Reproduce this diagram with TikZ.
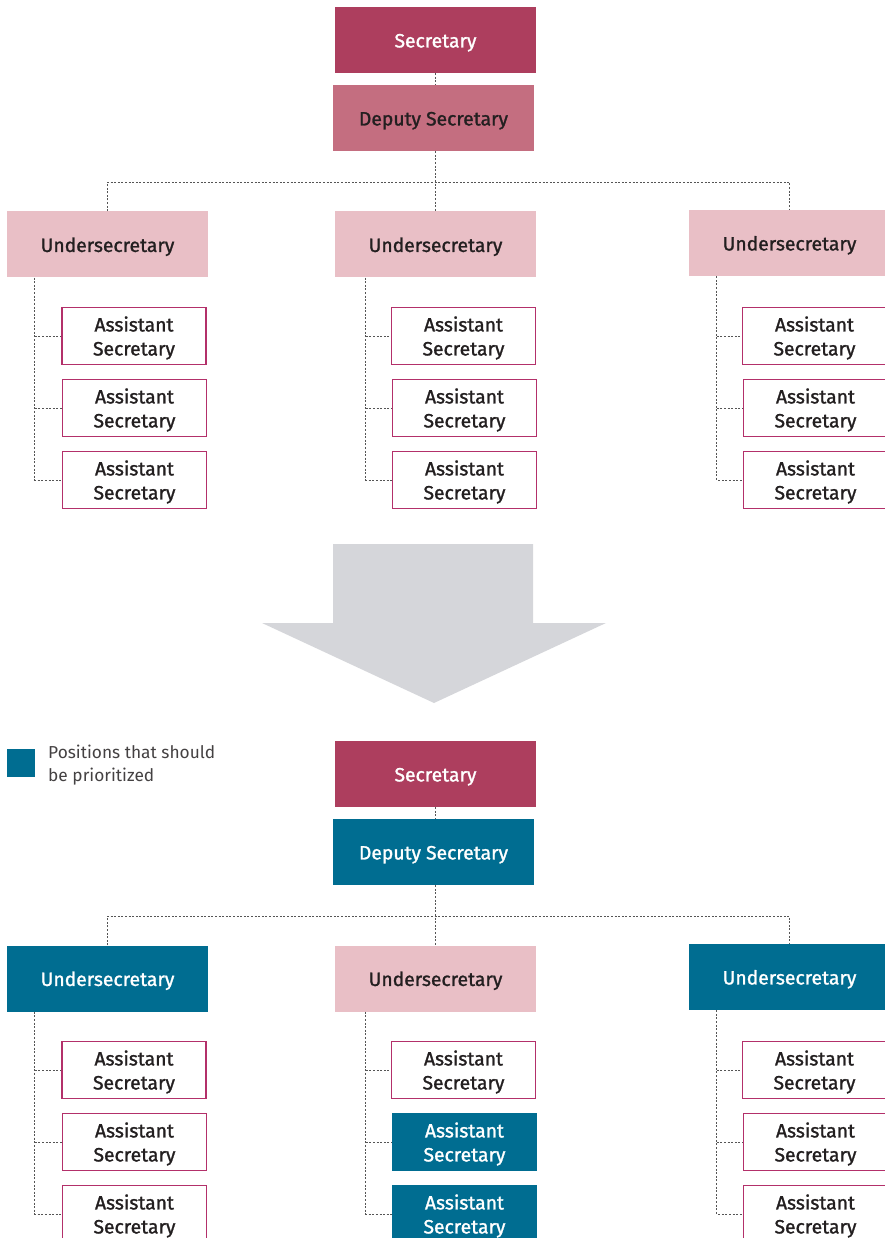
\documentclass[tikz,border=0pt]{standalone}
\usepackage{fontspec}
\setmainfont{Fira Sans}
\newfontfamily\boxfont{Fira Sans}[FakeBold=1.3]
\usetikzlibrary{calc}
\definecolor{secred}{HTML}{AD3E5E}
\definecolor{deppink}{HTML}{C46E80}
\definecolor{lightpink}{HTML}{E9BFC6}
\definecolor{primeteal}{HTML}{006D91}
\definecolor{asstline}{HTML}{B3306A}
\definecolor{arrowgray}{HTML}{D5D6DA}
\definecolor{darktext}{HTML}{231F20}
\definecolor{linkgray}{HTML}{555555}
\newcommand\lift{\rule{0pt}{19pt}}

\tikzset{
    box/.style={minimum width=201pt, minimum height=66pt, inner sep=0pt,
        font=\boxfont\fontsize{19.3}{24}\selectfont,
        execute at begin node=\lift},
    secbox/.style={box, fill=secred, text=white},
    pinkbox/.style={box, fill=deppink, text=darktext},
    palebox/.style={box, fill=lightpink, text=darktext},
    primebox/.style={box, fill=primeteal, text=white},
    asstbox/.style={minimum width=144pt, minimum height=57pt, inner sep=0pt,
        align=center, draw=asstline, line width=1.1pt, fill=white, text=darktext,
        font=\boxfont\fontsize{19.3}{24}\selectfont},
    asstprime/.style={asstbox, draw=primeteal, fill=primeteal, text=white},
    link/.style={draw=linkgray, line width=0.8pt, dash pattern=on 2pt off 1.6pt},
}

% one chart; the colours of its boxes come from the styles of the scope
\newcommand\drawchart[1]{%
    \node[secbox] (#1sec) at (435.5,40) {Secretary};
    \node[depcol] (#1dep) at (433.5,118) {Deputy Secretary};
    \node[ulcol] (#1ul) at (107.5,244.5) {Undersecretary};
    \node[umcol] (#1um) at (435.5,244.5) {Undersecretary};
    \node[urcol] (#1ur) at (789.5,243) {Undersecretary};

    \node[asstbox] (#1al1) at (134,336) {\lift Assistant\\Secretary};
    \node[asstbox] (#1al2) at (134.5,408) {\lift Assistant\\Secretary};
    \node[asstbox] (#1al3) at (134.5,480) {\lift Assistant\\Secretary};
    \node[asstbox] (#1am1) at (463.5,336) {\lift Assistant\\Secretary};
    \node[amtwocol] (#1am2) at (464.5,408) {\lift Assistant\\Secretary};
    \node[amthreecol] (#1am3) at (464.5,480) {\lift Assistant\\Secretary};
    \node[asstbox] (#1ar1) at (814.5,336) {\lift Assistant\\Secretary};
    \node[asstbox] (#1ar2) at (815.5,408) {\lift Assistant\\Secretary};
    \node[asstbox] (#1ar3) at (815.5,480) {\lift Assistant\\Secretary};

    \draw[link] (#1sec.south) -- (#1sec.south |- #1dep.north);
    \draw[link] (#1um.north |- #1dep.south) -- (#1um.north);
    \coordinate (#1bus) at (0,182);
    \draw[link] (#1ul.north) -- (#1ul.north |- #1bus) -- (#1ur.north |- #1bus) -- (#1ur.north);

    \foreach \c/\dx in {l/28,m/31,r/28}{
        \coordinate (#1trunk\c) at ($(#1u\c.south west)+(\dx,0)$);
        \draw[link] (#1trunk\c) |- (#1a\c3.west);
        \draw[link] (#1trunk\c |- #1a\c1.west) -- (#1a\c1.west);
        \draw[link] (#1trunk\c |- #1a\c2.west) -- (#1a\c2.west);
    }
}

\begin{document}
\begin{tikzpicture}[x=1pt, y=-1pt]
    \useasboundingbox (0,0) rectangle (884,1238);

    % before
    \begin{scope}[depcol/.style=pinkbox, ulcol/.style=palebox, umcol/.style=palebox,
            urcol/.style=palebox, amtwocol/.style=asstbox, amthreecol/.style=asstbox]
        \drawchart{t}
    \end{scope}

    % big arrow
    \fill[arrowgray] (333,544) -- (533,544) -- (533,623) -- (606,623) -- (434,703)
        -- (262,623) -- (333,623) -- cycle;

    % legend
    \fill[primeteal] (7,749) rectangle (35,777);
    \node[anchor=north west, inner sep=0pt, align=left, text=darktext!85,
        font=\fontsize{17.3}{23}\selectfont] (legend) at (48,745)
        {Positions that should\\be prioritized};

    % after
    \begin{scope}[yshift=-734pt, depcol/.style=primebox, ulcol/.style=primebox,
            umcol/.style=palebox, urcol/.style=primebox, amtwocol/.style=asstprime,
            amthreecol/.style=asstprime]
        \drawchart{b}
    \end{scope}
\end{tikzpicture}
\end{document}
